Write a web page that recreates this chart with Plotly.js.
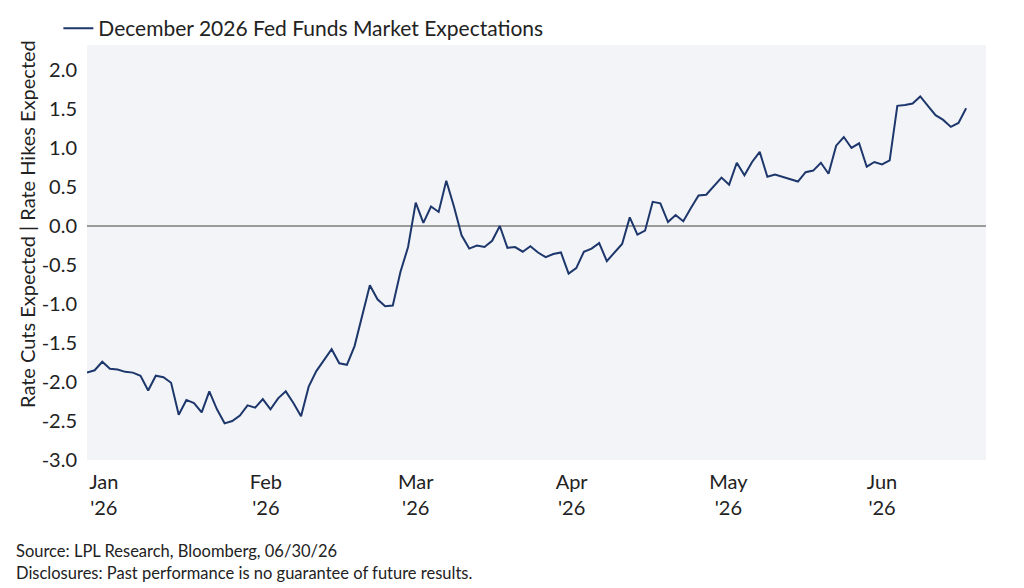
<!DOCTYPE html>
<html>
<head>
<meta charset="utf-8">
<script src="https://cdn.plot.ly/plotly-3.0.1.min.js"></script>
<style>
  html, body { margin: 0; padding: 0; background: #ffffff; }
  #chart { width: 1024px; height: 588px; }
</style>
</head>
<body>
<div id="chart"></div>
<script>
// Trading days (category axis, evenly spaced as in the reference)
const dates = [
  "2025-12-29","2025-12-30","2025-12-31",
  "2026-01-02","2026-01-05","2026-01-06","2026-01-07","2026-01-08","2026-01-09",
  "2026-01-12","2026-01-13","2026-01-14","2026-01-15","2026-01-16",
  "2026-01-20","2026-01-21","2026-01-22","2026-01-23",
  "2026-01-26","2026-01-27","2026-01-28","2026-01-29","2026-01-30",
  "2026-02-02","2026-02-03","2026-02-04","2026-02-05","2026-02-06",
  "2026-02-09","2026-02-10","2026-02-11","2026-02-12","2026-02-13",
  "2026-02-17","2026-02-18","2026-02-19","2026-02-20",
  "2026-02-23","2026-02-24","2026-02-25","2026-02-26","2026-02-27",
  "2026-03-02","2026-03-03","2026-03-04","2026-03-05","2026-03-06",
  "2026-03-09","2026-03-10","2026-03-11","2026-03-12","2026-03-13",
  "2026-03-16","2026-03-17","2026-03-18","2026-03-19","2026-03-20",
  "2026-03-23","2026-03-24","2026-03-25","2026-03-26","2026-03-27",
  "2026-03-30","2026-03-31",
  "2026-04-01","2026-04-02",
  "2026-04-06","2026-04-07","2026-04-08","2026-04-09","2026-04-10",
  "2026-04-13","2026-04-14","2026-04-15","2026-04-16","2026-04-17",
  "2026-04-20","2026-04-21","2026-04-22","2026-04-23","2026-04-24",
  "2026-04-27","2026-04-28","2026-04-29","2026-04-30",
  "2026-05-01",
  "2026-05-04","2026-05-05","2026-05-06","2026-05-07","2026-05-08",
  "2026-05-11","2026-05-12","2026-05-13","2026-05-14","2026-05-15",
  "2026-05-18","2026-05-19","2026-05-20","2026-05-21","2026-05-22",
  "2026-05-26","2026-05-27","2026-05-28","2026-05-29",
  "2026-06-01","2026-06-02","2026-06-03","2026-06-04","2026-06-05",
  "2026-06-08","2026-06-09","2026-06-10","2026-06-11","2026-06-12",
  "2026-06-15"
];

// Number of cuts (-) / hikes (+) priced for December 2026
const expectations = [
  -1.88, -1.85, -1.74,
  -1.83, -1.84, -1.87, -1.88, -1.92, -2.11,
  -1.92, -1.94, -2.01, -2.42, -2.23,
  -2.27, -2.39, -2.12, -2.35,
  -2.53, -2.50, -2.43, -2.30, -2.33,
  -2.22, -2.35, -2.21, -2.12, -2.27,
  -2.44, -2.06, -1.86, -1.72, -1.58,
  -1.76, -1.78, -1.54, -1.16,
  -0.76, -0.94, -1.03, -1.02, -0.59,
  -0.27, 0.30, 0.04, 0.25, 0.18,
  0.58, 0.25, -0.12, -0.29, -0.25,
  -0.27, -0.19, 0.00, -0.28, -0.27,
  -0.33, -0.26, -0.34, -0.40, -0.36,
  -0.34, -0.61,
  -0.54, -0.33,
  -0.29, -0.22, -0.45, -0.34, -0.23,
  0.11, -0.11, -0.06, 0.31, 0.29,
  0.05, 0.14, 0.06, 0.23, 0.39,
  0.40, 0.51, 0.62, 0.53,
  0.81,
  0.65, 0.82, 0.95, 0.63, 0.66,
  0.63, 0.60, 0.57, 0.69, 0.71,
  0.81, 0.67, 1.03, 1.14, 1.00,
  1.06, 0.76, 0.82, 0.79,
  0.84, 1.54, 1.55, 1.57, 1.66,
  1.54, 1.42, 1.36, 1.27, 1.32,
  1.51
];

const seriesName = "December 2026 Fed Funds Market Expectations";
// month-label positions on the category (trading-day index) axis
const xTickPositions = [2.2, 23.4, 43.0, 63.4, 83.9, 104.0];
const xTickLabels = ["Jan<br>'26","Feb<br>'26","Mar<br>'26","Apr<br>'26","May<br>'26","Jun<br>'26"];
const yTickValues = [-3.0, -2.5, -2.0, -1.5, -1.0, -0.5, 0.0, 0.5, 1.0, 1.5, 2.0];
const yTickLabels = ["-3.0","-2.5","-2.0","-1.5","-1.0","-0.5","0.0","0.5","1.0","1.5","2.0"];
const yTitle = "Rate Cuts Expected | Rate Hikes Expected";
const sourceText = "Source: LPL Research, Bloomberg, 06/30/26";
const disclosureText = "Disclosures: Past performance is no guarantee of future results.";

const FONT = "Lato, 'Open Sans', sans-serif";
const TXT = "#222222";

const trace = {
  type: "scatter",
  mode: "lines",
  name: seriesName,
  x: dates,
  y: expectations,
  line: { color: "#1d376c", width: 2 },
  showlegend: true,
  hoverinfo: "x+y"
};

const PW = 1024 - 87 - 38, PH = 588 - 45 - 128;

const layout = {
  width: 1024,
  height: 588,
  margin: { l: 87, r: 38, t: 45, b: 128, pad: 0, autoexpand: false },
  paper_bgcolor: "#ffffff",
  plot_bgcolor: "#f3f4f7",
  font: { family: FONT, color: TXT, size: 18 },
  showlegend: true,
  legend: {
    orientation: "h",
    xref: "container", yref: "container",
    x: 0.057, y: 1 - 8/588,
    xanchor: "left", yanchor: "top",
    bgcolor: "rgba(0,0,0,0)",
    font: { family: FONT, size: 21, color: TXT }
  },
  xaxis: {
    type: "category",
    range: [0, 117.6],
    tickmode: "array",
    tickvals: xTickPositions,
    ticktext: xTickLabels,
    showgrid: false,
    zeroline: false,
    showline: false,
    ticks: "",
    tickfont: { family: FONT, size: 20, color: TXT },
    ticklabelstandoff: 8,
    fixedrange: true
  },
  yaxis: {
    range: [-3.0, 2.32],
    tickmode: "array",
    tickvals: yTickValues,
    ticktext: yTickLabels,
    showgrid: false,
    zeroline: true,
    zerolinecolor: "#9a9a9a",
    zerolinewidth: 1.5,
    showline: false,
    ticks: "",
    ticklabelstandoff: 9,
    tickfont: { family: FONT, size: 20, color: TXT },
    fixedrange: true
  },
  annotations: [
    {
      text: yTitle, xref: "paper", yref: "paper",
      x: (27 - 87) / PW, y: (460 - 224) / PH,
      xanchor: "center", yanchor: "middle", textangle: -90, showarrow: false,
      font: { family: FONT, size: 20, color: TXT }
    },
    {
      text: sourceText, xref: "paper", yref: "paper",
      x: (14 - 87) / PW, y: -(551 - 460) / PH,
      xanchor: "left", yanchor: "middle", showarrow: false,
      font: { family: FONT, size: 16.5, color: TXT }
    },
    {
      text: disclosureText, xref: "paper", yref: "paper",
      x: (14 - 87) / PW, y: -(573 - 460) / PH,
      xanchor: "left", yanchor: "middle", showarrow: false,
      font: { family: FONT, size: 16.5, color: TXT }
    }
  ]
};

Plotly.newPlot("chart", [trace], layout, { displayModeBar: false, staticPlot: true });
</script>
</body>
</html>
